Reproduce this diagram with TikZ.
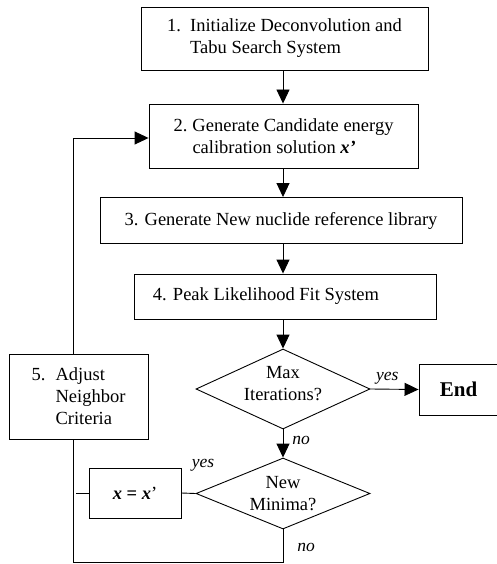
\documentclass[tikz,border=0pt]{standalone}
\usepackage{fontspec}
\setmainfont{Liberation Serif}
\usetikzlibrary{arrows.meta,shapes.geometric}
\begin{document}
\begin{tikzpicture}[x=1pt,y=-1pt,
  font=\fontsize{18.5}{22}\selectfont,
  box/.style={draw,line width=0.9pt,inner sep=0pt,minimum width=#1},
  dia/.style={draw,line width=0.9pt,shape=diamond,inner sep=0pt,minimum width=174pt},
  txt/.style={inner sep=0pt,align=center},
  line/.style={line width=0.9pt},
  arr/.style={line width=0.9pt,-{Triangle[length=14pt,width=13pt]}},
  lab/.style={font=\fontsize{17.5}{20}\selectfont\itshape,inner sep=0pt}]
\useasboundingbox (0,0) rectangle (497,564);
\node[box=287pt,minimum height=63pt,align=left] (b1) at (284.5,38.5)
  {\makebox[23pt][l]{1.}Initialize Deconvolution and\\\hspace*{23pt}Tabu Search System};
\node[box=269pt,minimum height=64pt,align=left] (b2) at (283.5,136)
  {\makebox[19pt][l]{2.}Generate Candidate energy\\\hspace*{19pt}calibration solution \textbf{\textit{x’}}};
\node[box=362pt,minimum height=46pt] (b3) at (281,220.5)
  {3. Generate New nuclide reference library};
\node[box=302pt,minimum height=45pt] (b4) at (285,296.5) {};
\node[txt] (t4) at (266,296.5) {4. Peak Likelihood Fit System};
\node[dia,minimum height=80pt] (d1) at (283,389) {};
\node[txt] (t5) at (283,384) {Max\\Iterations?};
\node[box=79pt,minimum height=51pt,font=\fontsize{21}{24}\selectfont\bfseries] (end) at (458.5,389.5) {End};
\node[dia,minimum height=71pt] (d2) at (283,493.5) {};
\node[txt] (t6) at (283,493.5) {New\\Minima?};
\node[box=92pt,minimum height=50pt] (xb) at (135,493) {\textbf{\textit{x} = \textit{x}}’};
\node[box=139pt,minimum height=85pt,align=left] (b5) at (78.5,396.5)
  {\makebox[24pt][l]{5.}Adjust\\\hspace*{24pt}Neighbor\\\hspace*{24pt}Criteria};
\coordinate (lt) at (73,138);
\coordinate (bl) at (73,562.5);
\coordinate (br) at (283,562.5);
\coordinate (mid) at (76,493);
% main chain
\draw[arr] (b1.south -| d1.north) -- (b2.north -| d1.north);
\draw[arr] (b2.south -| d1.north) -- (b3.north -| d1.north);
\draw[arr] (b3.south -| d1.north) -- (b4.north -| d1.north);
\draw[arr] (b4.south -| d1.north) -- (d1.north);
\draw[arr] (d1.south) -- (d2.north) node[lab,pos=0.4,right=9pt] (no1) {no};
\draw[arr] (d1.east) -- (end.west) node[lab,pos=0.35,above=4pt] (yes1) {yes};
% loop
\draw[arr] (b5.north -| lt) -- (lt) -- (b2.west |- lt);
\draw[line] (d2.south) -- (br) -- (bl) -- (b5.south -| bl);
\draw[line] (d2.west) -- (xb.east);
\draw[line] (xb.west) -- (mid);
\node[lab] (yes2) at (203,465) {yes};
\node[lab] (no2) at (306,547) {no};
\end{tikzpicture}
\end{document}
